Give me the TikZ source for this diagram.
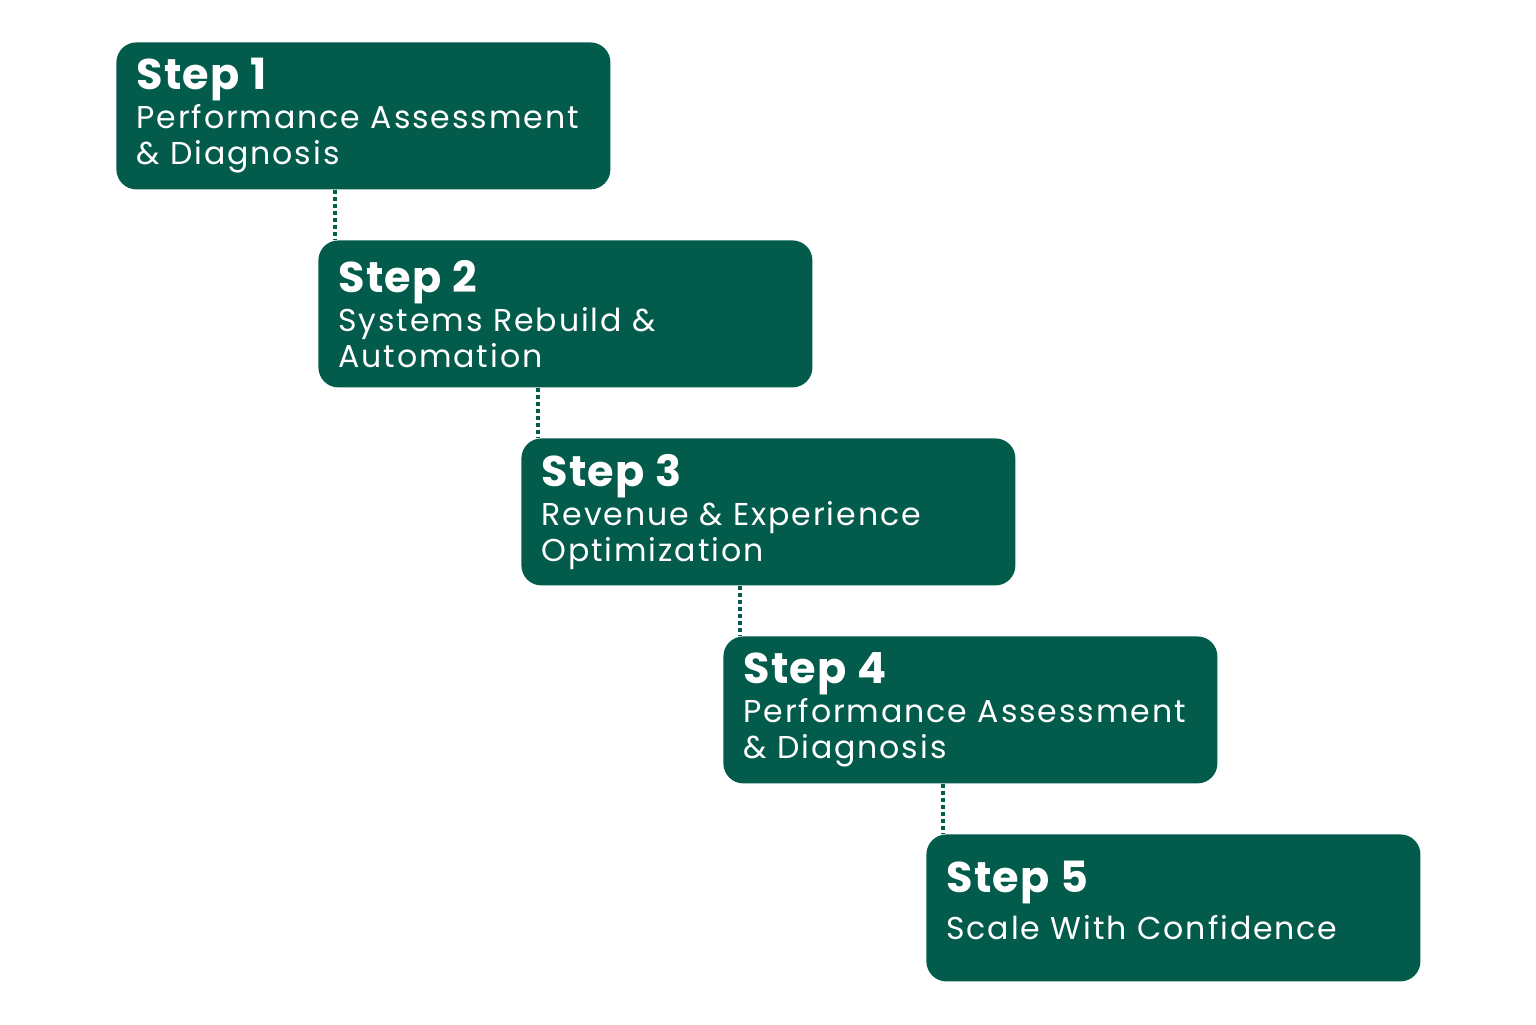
\documentclass[tikz,border=0pt]{standalone}
\usepackage{fontspec}
\setmainfont{Poppins}[LetterSpace=6]
\usepackage{tikz}
\usetikzlibrary{arrows,shapes}
\definecolor{stepgreen}{RGB}{3,91,75}
\tikzstyle{stepbox}=[rectangle,rounded corners=10pt,fill=stepgreen,text=white,anchor=north west,minimum width=247pt,minimum height=73.5pt,inner xsep=10pt,inner ysep=0pt,text width=227pt,align=left,font=\fontsize{15.8}{18}\selectfont]
\tikzstyle{link} = [draw,stepgreen,line width=1.6pt,dash pattern=on 2pt off 1.5pt]
\newcommand{\steptitle}[2][1.5pt]{{\fontsize{21.5}{21.5}\selectfont\addfontfeatures{LetterSpace=3}\bfseries #2}\\[#1]}

\begin{document}
\begin{tikzpicture}[x=0.5pt,y=-0.5pt]
    \useasboundingbox (0,0) rectangle (1536,1024);
    \foreach \pos/\name/\label in {{(116,42)/s1/{\steptitle{Step 1}Performance Assessment\\\& Diagnosis}},
        {(318,240)/s2/{\steptitle{Step 2}Systems Rebuild \&\\Automation}},
        {(521,438)/s3/{\steptitle{Step 3}Revenue \& Experience\\Optimization}},
        {(723,636)/s4/{\steptitle{Step 4}Performance Assessment\\\& Diagnosis}},
        {(926,834)/s5/{\steptitle[5.5pt]{Step 5}Scale With Confidence\rule[-8pt]{0pt}{8pt}}}}
        \node[stepbox] (\name) at \pos {\label};
    \foreach \source/\dest in {s1/s2, s2/s3, s3/s4, s4/s5}
        \path[link] ([xshift=8.5pt]\dest.north west |- \source.south) -- ([xshift=8.5pt]\dest.north west);
\end{tikzpicture}
\end{document}
